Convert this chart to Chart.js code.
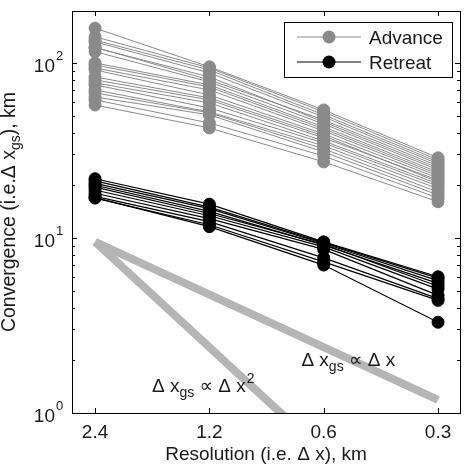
<!DOCTYPE html>
<html><head><meta charset="utf-8">
<script src="https://cdn.jsdelivr.net/npm/chart.js@4.4.0/dist/chart.umd.min.js"></script>
<style>html,body{margin:0;padding:0;background:#fff;}canvas{display:block}</style>
</head><body>
<canvas id="c" width="467" height="466"></canvas>
<script>
// ---- data ----
const resolutionKm = [2.4, 1.2, 0.6, 0.3];
const xTickLabels = ['2.4', '1.2', '0.6', '0.3'];
const yMajorTicks = [1, 10, 100];
const yTickExponents = ['0', '1', '2'];
const seriesLabels = ['Advance', 'Retreat'];

const advanceRuns = [
  [158, 95, 53.9, 28.7],
  [141, 93.6, 52.5, 27.9],
  [135, 91.2, 50.5, 27.2],
  [132, 87.7, 49.1, 26.5],
  [123, 80, 47.2, 25.8],
  [122, 83.2, 46.0, 25.1],
  [116, 77.9, 44.8, 24.5],
  [100, 74.9, 43.1, 23.8],
  [97.4, 72.9, 42.0, 23.2],
  [93.6, 70.1, 40.9, 22.6],
  [91.2, 65.6, 39.3, 22.0],
  [83.2, 63.1, 38.3, 20.9],
  [80, 61.5, 37.3, 21.4],
  [76.9, 59.1, 35.8, 20.4],
  [74.9, 55.3, 34.9, 19.8],
  [70.1, 52.5, 33.6, 19.1],
  [67.4, 51.9, 32.3, 18.3],
  [63.9, 50.5, 31.0, 17.6],
  [61.5, 45.4, 29.4, 16.9],
  [57.5, 42.5, 27.2, 16.1]
];
const retreatRuns = [
  [21.8, 15.6, 9.5, 6.0],
  [21.2, 15.0, 9.4, 5.9],
  [20.5, 14.7, 9.3, 5.7],
  [20.0, 14.2, 9.1, 5.5],
  [19.5, 13.8, 9.2, 5.3],
  [18.8, 13.4, 8.9, 5.1],
  [18.0, 12.9, 8.6, 4.7],
  [17.3, 12.4, 7.7, 4.5],
  [16.9, 11.9, 7.3, 4.4],
  [17.0, 11.6, 7.0, 3.3]
];
const refLinearX = [2.4, 0.3];
const refLinearY = [9.5, 1.19];
const refQuadX = [2.4, 0.6];
const refQuadY = [9.5, 0.594];

// ---- styles ----
const FONT = '"Liberation Sans", Arial, "DejaVu Sans", sans-serif';
const GRAY = '#8a8a8a';
const BLACK = '#000000';
const REF = '#b5b5b5';
const TXT = '#1a1a1a';

const pts = (xs, ys) => xs.map((x, i) => ({x: x, y: ys[i]}));

const datasets = [];
advanceRuns.forEach(r => datasets.push({
  label: seriesLabels[0], data: pts(resolutionKm, r),
  borderColor: GRAY, backgroundColor: GRAY, borderWidth: 1,
  pointRadius: 6, pointBorderWidth: 1, pointBorderColor: GRAY, pointBackgroundColor: GRAY
}));
retreatRuns.forEach(r => datasets.push({
  label: seriesLabels[1], data: pts(resolutionKm, r),
  borderColor: BLACK, backgroundColor: BLACK, borderWidth: 1.2,
  pointRadius: 6, pointBorderWidth: 1, pointBorderColor: BLACK, pointBackgroundColor: BLACK
}));
datasets.push({label: 'ref1', data: pts(refLinearX, refLinearY), borderColor: REF, borderWidth: 8,
  pointRadius: 0, borderCapStyle: 'butt', clip: 0});
datasets.push({label: 'ref2', data: pts(refQuadX, refQuadY), borderColor: REF, borderWidth: 8,
  pointRadius: 0, borderCapStyle: 'butt', clip: 0});

const annotations = [
  {x: 0.687, y: 1.856, parts: [['Δ x', 0], ['gs', 1], [' ∝ Δ x', 0]]},
  {x: 1.70, y: 1.318, parts: [['Δ x', 0], ['gs', 1], [' ∝ Δ x', 0], ['2', 2]]}
];

function drawRich(ctx, x, y, parts, big, small) {
  let cx = x;
  parts.forEach(([t, kind]) => {
    if (kind === 0) { ctx.font = big + 'px ' + FONT; ctx.fillText(t, cx, y); }
    else if (kind === 1) { ctx.font = small + 'px ' + FONT; ctx.fillText(t, cx, y + 5); }
    else { ctx.font = small + 'px ' + FONT; ctx.fillText(t, cx + 1, y - 9); }
    cx += ctx.measureText(t).width + (kind === 2 ? 1 : 0);
  });
  return cx - x;
}
function measureRich(ctx, parts, big, small) {
  let w = 0;
  parts.forEach(([t, kind]) => {
    ctx.font = (kind === 0 ? big : small) + 'px ' + FONT;
    w += ctx.measureText(t).width;
  });
  return w;
}

const decor = {
  id: 'decor',
  afterDraw(chart) {
    const ctx = chart.ctx, a = chart.chartArea;
    const xs = chart.scales.x, ys = chart.scales.y;
    const L = Math.round(a.left), R = Math.round(a.right), T = Math.round(a.top), B = Math.round(a.bottom);
    ctx.save();
    // frame
    ctx.strokeStyle = '#000'; ctx.lineWidth = 1;
    ctx.strokeRect(L + 0.5, T + 0.5, R - L, B - T);
    // x ticks
    ctx.beginPath();
    resolutionKm.forEach(v => {
      const px = Math.round(xs.getPixelForValue(v)) + 0.5;
      ctx.moveTo(px, B); ctx.lineTo(px, B - 5);
      ctx.moveTo(px, T); ctx.lineTo(px, T + 5);
    });
    // y ticks major + minor
    for (let d = 0; d <= 2; d++) {
      for (let m = 1; m <= 9; m++) {
        const v = m * Math.pow(10, d);
        if (v > ys.max) continue;
        const py = Math.round(ys.getPixelForValue(v)) + 0.5;
        const len = m === 1 ? 5 : 3;
        ctx.moveTo(L, py); ctx.lineTo(L + len, py);
        ctx.moveTo(R, py); ctx.lineTo(R - len, py);
      }
    }
    ctx.stroke();
    // x tick labels
    ctx.fillStyle = TXT; ctx.textBaseline = 'alphabetic';
    ctx.font = '19px ' + FONT; ctx.textAlign = 'center';
    resolutionKm.forEach((v, i) => ctx.fillText(xTickLabels[i], xs.getPixelForValue(v), 438));
    // y tick labels
    yMajorTicks.forEach((v, i) => {
      const py = ys.getPixelForValue(v);
      ctx.font = '19px ' + FONT; ctx.textAlign = 'right';
      ctx.fillText('10', L - 17, py + 9);
      ctx.font = '13px ' + FONT; ctx.textAlign = 'left';
      ctx.fillText(yTickExponents[i], L - 16, py - 3);
    });
    // x title
    ctx.font = '19px ' + FONT; ctx.textAlign = 'center';
    ctx.fillText('Resolution (i.e. Δ x), km', (a.left + a.right) / 2, 460);
    // y title (rotated)
    const yParts = [['Convergence (i.e.Δ x', 0], ['gs', 1], ['), km', 0]];
    ctx.textAlign = 'left';
    const w = measureRich(ctx, yParts, 19.5, 14);
    ctx.save();
    ctx.translate(15, (a.top + a.bottom) / 2);
    ctx.rotate(-Math.PI / 2);
    drawRich(ctx, -w / 2, 0, yParts, 19.5, 14);
    ctx.restore();
    // annotations
    annotations.forEach(an => {
      drawRich(ctx, xs.getPixelForValue(an.x), ys.getPixelForValue(an.y), an.parts, 19, 14);
    });
    // legend
    const lx = 284.5, ly = 22.5, lw = 168, lh = 55;
    ctx.fillStyle = '#fff'; ctx.fillRect(lx, ly, lw, lh);
    ctx.strokeStyle = '#000'; ctx.lineWidth = 1; ctx.strokeRect(lx, ly, lw, lh);
    const entries = [chart.data.datasets[0], chart.data.datasets[advanceRuns.length]];
    entries.forEach((ds, i) => {
      const y = 37 + i * 25;
      ctx.strokeStyle = ds.borderColor; ctx.lineWidth = ds.borderWidth;
      ctx.beginPath(); ctx.moveTo(297, y); ctx.lineTo(361, y); ctx.stroke();
      ctx.fillStyle = ds.pointBackgroundColor;
      ctx.beginPath(); ctx.arc(329, y, 6.5, 0, Math.PI * 2); ctx.fill();
      ctx.fillStyle = TXT; ctx.font = '19px ' + FONT; ctx.textAlign = 'left';
      ctx.fillText(ds.label, 369, y + 7);
    });
    ctx.restore();
  }
};

new Chart(document.getElementById('c'), {
  type: 'line',
  data: {datasets: datasets},
  options: {
    responsive: false, animation: false, devicePixelRatio: 1,
    layout: {padding: {left: 72, top: 11, right: 6, bottom: 53}},
    plugins: {legend: {display: false}, tooltip: {enabled: false}},
    elements: {line: {tension: 0}},
    scales: {
      x: {type: 'logarithmic', reverse: true, min: 0.2626, max: 2.76, bounds: 'data', display: false},
      y: {type: 'logarithmic', min: 1, max: 198, bounds: 'data', display: false}
    }
  },
  plugins: [decor]
});
</script>
</body></html>
